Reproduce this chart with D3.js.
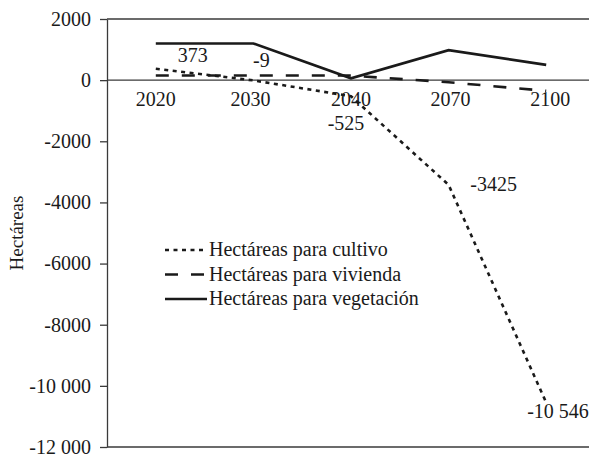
<!DOCTYPE html>
<html>
<head>
<meta charset="utf-8">
<script src="https://cdn.jsdelivr.net/npm/d3@7"></script>
<style>
  html, body { margin: 0; padding: 0; background: #fff; }
  svg { display: block; }
</style>
</head>
<body>
<svg id="chart" width="589" height="457" font-family="Liberation Serif"></svg>
<script>
// ---- data ----
const years = ["2020", "2030", "2040", "2070", "2100"];
const cultivo = [373, -9, -525, -3425, -10546];
const vivienda = [150, 150, 150, -70, -350];
const vegetacion = [1200, 1200, 60, 980, 500];
const cultivoLabels = ["373", "-9", "-525", "-3425", "-10 546"];
const yTicks = [2000, 0, -2000, -4000, -6000, -8000, -10000, -12000];
const yTickLabels = ["2000", "0", "-2000", "-4000", "-6000", "-8000", "-10 000", "-12 000"];
const seriesNames = ["Hectáreas para cultivo", "Hectáreas para vivienda", "Hectáreas para vegetación"];
const yTitle = "Hectáreas";

// ---- layout ----
const FONT = "Liberation Serif";
const svg = d3.select("#chart");
const plotLeft = 107, plotRight = 595, plotTop = 19, plotBottom = 447;
const x = d3.scalePoint().domain(years).range([plotLeft, plotRight]).padding(0.5);
const y = d3.scaleLinear().domain([-12000, 2000]).range([plotBottom, plotTop]);
const ink = "#1a1a1a";
const axisColor = "#3a3a3a";

// horizontal frame lines: top, zero, bottom
[2000, 0, -12000].forEach(v => {
  svg.append("line")
    .attr("x1", plotLeft).attr("x2", 589)
    .attr("y1", y(v)).attr("y2", y(v))
    .attr("stroke", axisColor).attr("stroke-width", 1.3);
});

// y axis
const yAxis = svg.append("g")
  .attr("transform", `translate(${plotLeft},0)`)
  .call(d3.axisLeft(y).tickValues(yTicks)
    .tickFormat((d, i) => yTickLabels[i]).tickSizeInner(7).tickSizeOuter(0).tickPadding(9));
yAxis.attr("font-family", FONT).attr("font-size", 20);
yAxis.select(".domain").attr("stroke", axisColor).attr("stroke-width", 1.3);
yAxis.selectAll(".tick line").attr("stroke", axisColor).attr("stroke-width", 1.3);
yAxis.selectAll(".tick text").attr("fill", ink).attr("font-family", FONT).attr("font-size", 20);

// x category labels (below zero line)
const xLabelDx = [0, -3, 0, 2, 4];
svg.append("g").selectAll("text").data(years).join("text")
  .attr("x", (d, i) => x(d) + xLabelDx[i])
  .attr("y", y(0) + 26)
  .attr("text-anchor", "middle")
  .attr("font-family", FONT)
  .attr("font-size", 20)
  .attr("fill", ink)
  .text(d => d);

// y title
svg.append("text")
  .attr("transform", `translate(23,${(plotTop + plotBottom) / 2}) rotate(-90)`)
  .attr("text-anchor", "middle")
  .attr("font-family", FONT)
  .attr("font-size", 19)
  .attr("fill", ink)
  .text(yTitle);

// lines
const line = d3.line().x((d, i) => x(years[i])).y(d => y(d));
const styles = [
  { data: cultivo, dash: "4,4.5", w: 2.6 },
  { data: vivienda, dash: "13,13", w: 2.6 },
  { data: vegetacion, dash: null, w: 2.6 }
];
styles.forEach(s => {
  svg.append("path")
    .datum(s.data)
    .attr("d", line)
    .attr("fill", "none")
    .attr("stroke", ink)
    .attr("stroke-width", s.w)
    .attr("stroke-dasharray", s.dash);
});

// data labels for cultivo
const labelOffsets = [[37, -7, "middle"], [8, -13, "middle"], [-5, 34, "middle"], [45, 6, "middle"], [-19, 15, "start"]];
svg.append("g").selectAll("text").data(cultivo).join("text")
  .attr("x", (d, i) => x(years[i]) + labelOffsets[i][0])
  .attr("y", (d, i) => y(d) + labelOffsets[i][1])
  .attr("text-anchor", (d, i) => labelOffsets[i][2])
  .attr("font-family", FONT)
  .attr("font-size", 20)
  .attr("fill", ink)
  .text((d, i) => cultivoLabels[i]);

// legend
const legend = svg.append("g");
seriesNames.forEach((name, i) => {
  const ly = 250 + i * 24.5;
  legend.append("line")
    .attr("x1", 165).attr("x2", 207)
    .attr("y1", ly).attr("y2", ly)
    .attr("stroke", ink).attr("stroke-width", 2.6)
    .attr("stroke-dasharray", styles[i].dash);
  legend.append("text")
    .attr("x", 209).attr("y", ly + 6)
    .attr("font-family", FONT)
    .attr("font-size", 20)
    .attr("fill", ink)
    .text(name);
});
</script>
</body>
</html>
